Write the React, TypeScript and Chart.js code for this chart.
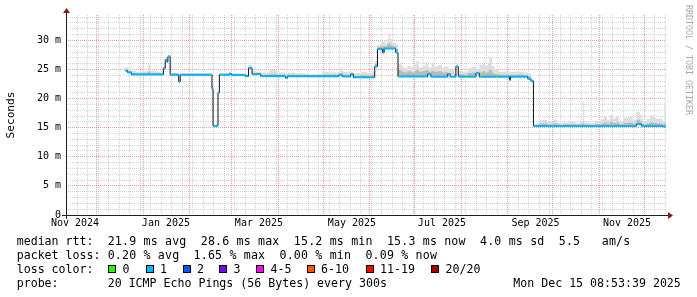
import React, { useEffect, useRef } from "react";
import { Chart, registerables } from "chart.js";

Chart.register(...registerables);

// x values: days since 2024-11-01 00:00 (400-day window ending Mon Dec 15 08:53:39 2025)
const X_START = 9.37;
const X_END = 409.37;
const Y_MAX = 34.36;

const monthStartDays = [30, 61, 92, 120, 151, 181, 212, 242, 273, 304, 334, 365, 395];
const xTickLabels = ["Nov 2024", "Jan 2025", "Mar 2025", "May 2025", "Jul 2025", "Sep 2025", "Nov 2025"];
const xTickLabelDays = [15.4, 76.0, 138.0, 200.0, 260.0, 322.4, 383.4];
const FIRST_MONDAY = 10;
const LAST_MONDAY = 409;

const yMinorStep = 1;
const yMajorStep = 5;

// median rtt (ms): step function, value holds from day until next day
const medianDays = [
  48.9, 50.4, 52.9, 74.3, 75.5, 76.6, 77.3, 78.8, 84.5, 85.5,
  106.7, 107.4, 110.7, 111.6, 118.5, 119.5, 128.9, 131.1, 133.4, 139.2,
  155.7, 157.0, 191.1, 193.6, 199.2, 200.9, 215.2, 217.0, 220.3, 221.4,
  229.2, 230.7, 250.4, 252.6, 263.8, 265.5, 269.3, 270.9, 276.0, 276.8,
  282.7, 284.9, 285.8, 286.6, 296.0, 296.8, 305.0, 305.7, 317.2, 319.4,
  321.0, 389.7, 393.0, 407.5,
];
const medianMs = [
  24.8, 24.5, 24.15, 25.2, 26.6, 26.3, 27.2, 24.1, 22.9, 24.1,
  21.7, 15.3, 21.0, 24.1, 24.3, 24.05, 23.85, 25.25, 24.2, 23.85,
  23.55, 23.85, 24.0, 23.8, 24.2, 23.65, 25.5, 28.5, 27.9, 28.6,
  27.9, 23.8, 24.2, 23.77, 24.2, 23.77, 25.5, 23.77, 23.77, 23.77,
  24.35, 23.77, 23.77, 23.77, 23.77, 23.77, 23.2, 23.77, 23.4, 23.0,
  15.3, 15.6, 15.3, 15.2,
];
const medianLoss = [
  1, 1, 1, 1, 1, 1, 1, 1, 1, 1,
  1, 1, 1, 1, 1, 1, 1, 1, 1, 1,
  1, 1, 1, 1, 1, 1, 1, 1, 1, 1,
  1, 1, 1, 1, 1, 1, 1, 1, 0, 1,
  1, 1, 0, 1, 0, 1, 1, 1, 1, 1,
  1, 1, 1, 1,
];

// smoke (spread of the 20 pings), upper edges in ms
const smokeDays = [
  48.9, 50.7, 52.9, 56.1, 60.1, 64.1, 65.6, 69.5, 72.0, 74.3,
  75.5, 76.6, 77.3, 78.8, 84.5, 85.5, 95.0, 106.7, 107.4, 110.7,
  111.6, 118.5, 119.5, 128.9, 131.1, 133.4, 136.0, 139.2, 145.0, 150.0,
  155.7, 157.0, 162.0, 166.0, 172.0, 180.0, 185.0, 191.1, 192.5, 194.0,
  199.2, 200.9, 206.0, 210.0, 213.0, 215.2, 217.0, 219.0, 220.3, 222.0,
  223.5, 224.5, 225.5, 227.0, 229.2, 230.7, 233.0, 235.0, 237.0, 239.5,
  242.0, 243.0, 244.5, 247.0, 249.0, 251.0, 253.0, 255.0, 257.5, 260.0,
  262.0, 264.5, 268.0, 269.3, 270.9, 274.0, 277.0, 280.0, 282.7, 284.9,
  287.0, 289.0, 290.5, 291.5, 292.5, 293.5, 295.0, 298.0, 302.0, 305.0,
  306.0, 310.0, 314.0, 317.2, 319.4, 321.0, 324.0, 325.5, 330.0, 334.0,
  337.0, 341.0, 345.0, 349.0, 352.0, 354.0, 354.8, 358.0, 362.0, 366.0,
  368.0, 370.0, 372.0, 374.0, 376.0, 378.0, 381.0, 384.0, 387.0, 389.7,
  392.0, 393.0, 394.0, 396.5, 398.5, 401.0, 403.0, 405.0, 407.0, 408.2,
  409.0,
];
const smokeTopMs = [
  25.4, 25.2, 24.8, 24.6, 24.7, 25.8, 24.8, 24.6, 24.5, 25.6,
  27.0, 26.8, 27.6, 24.4, 23.1, 24.35, 24.35, 21.9, 15.6, 21.3,
  24.4, 24.5, 24.35, 24.2, 25.8, 24.8, 24.6, 24.5, 24.9, 24.5,
  24.2, 24.5, 24.4, 24.3, 24.2, 24.6, 24.5, 24.7, 25.2, 24.6,
  24.6, 24.4, 24.6, 24.4, 24.7, 26.5, 29.2, 29.6, 29.8, 29.5,
  30.3, 31.2, 30.2, 29.6, 29.3, 26.0, 25.5, 25.2, 25.6, 25.3,
  25.9, 26.5, 25.4, 25.6, 26.3, 25.4, 26.1, 25.5, 25.8, 25.3,
  25.5, 24.9, 24.7, 25.8, 24.8, 24.6, 25.2, 25.5, 25.0, 25.8,
  26.3, 25.6, 26.0, 27.2, 27.0, 25.6, 25.0, 24.6, 24.7, 24.5,
  24.6, 24.6, 24.5, 24.3, 23.3, 15.6, 15.9, 16.3, 16.0, 16.3,
  15.8, 15.9, 16.1, 15.8, 16.0, 19.5, 15.9, 15.8, 16.2, 16.5,
  17.0, 16.4, 17.2, 16.6, 16.9, 16.2, 16.7, 16.9, 16.4, 17.7,
  17.3, 16.6, 16.2, 16.5, 17.2, 16.8, 16.5, 16.6, 16.0, 19.3,
  16.0,
];
const smokeCoreMs = [
  25.0, 24.7, 24.4, 24.3, 24.35, 24.6, 24.35, 24.3, 24.3, 25.3,
  26.8, 26.5, 27.4, 24.25, 23.0, 24.2, 24.2, 21.8, 15.45, 21.1,
  24.2, 24.35, 24.2, 24.0, 25.5, 24.4, 24.35, 24.1, 24.2, 24.1,
  23.8, 24.1, 24.05, 24.0, 24.0, 24.1, 24.1, 24.3, 24.4, 24.1,
  24.4, 23.95, 24.0, 23.95, 24.0, 26.0, 28.9, 29.0, 29.0, 29.0,
  29.3, 29.6, 29.2, 29.0, 28.5, 24.9, 24.6, 24.5, 24.7, 24.5,
  24.8, 25.0, 24.6, 24.7, 24.9, 24.6, 24.8, 24.6, 24.7, 24.5,
  24.5, 24.3, 24.2, 25.6, 24.2, 24.1, 24.4, 24.5, 24.6, 24.5,
  24.7, 24.4, 24.6, 25.0, 24.8, 24.4, 24.2, 24.1, 24.1, 24.0,
  24.1, 24.1, 24.0, 23.9, 23.15, 15.5, 15.6, 15.7, 15.6, 15.7,
  15.55, 15.6, 15.6, 15.5, 15.6, 15.9, 15.55, 15.5, 15.6, 15.7,
  15.9, 15.7, 16.0, 15.8, 15.9, 15.6, 15.8, 15.9, 15.7, 16.3,
  16.1, 15.7, 15.6, 15.7, 15.9, 15.8, 15.7, 15.7, 15.5, 15.8,
  15.5,
];

const lossLabels = ["0", "1", "2", "3", "4-5", "6-10", "11-19", "20/20"];
const lossColors = ["#26ff00", "#00b8ff", "#0059ff", "#7e00ff", "#ff00ff", "#ff5500", "#ff0000", "#a10000"];

const statRows = [
  ["median rtt:", "21.9 ms avg  28.6 ms max  15.2 ms min  15.3 ms now  4.0 ms sd  5.5   am/s"],
  ["packet loss:", "0.20 % avg  1.65 % max  0.00 % min  0.09 % now"],
];
const probeText = "20 ICMP Echo Pings (56 Bytes) every 300s";
const stampText = "Mon Dec 15 08:53:39 2025";

// layout (not data)
const lossItemX = [108, 145.5, 182.5, 219, 256, 306.5, 365.5, 431];
const rowTops = [234, 248, 262.3, 276];
const MONO = '"DejaVu Sans Mono", monospace';

const GRID_GRAY = "rgba(150,150,150,0.42)";
const GRID_RED = "rgba(222,79,79,0.55)";

function medianAt(d: number): number {
  let v = medianMs[0];
  for (let i = 0; i < medianDays.length; i++) {
    if (medianDays[i] <= d + 1e-9) v = medianMs[i];
    else break;
  }
  return v;
}

const axesPlugin = {
  id: "rrdAxes",
  afterDatasetsDraw(chart: any) {
    const { ctx, chartArea: a } = chart;
    ctx.save();
    ctx.strokeStyle = "#1f1f1f";
    ctx.lineWidth = 1;
    ctx.beginPath();
    ctx.moveTo(a.left - 4, a.bottom + 0.5);
    ctx.lineTo(a.right + 4, a.bottom + 0.5);
    ctx.moveTo(a.left + 0.5, a.bottom + 4);
    ctx.lineTo(a.left + 0.5, a.top - 4);
    ctx.stroke();
    ctx.fillStyle = "#7f1f1f";
    ctx.beginPath();
    ctx.moveTo(a.right + 2, a.bottom - 3);
    ctx.lineTo(a.right + 2, a.bottom + 4);
    ctx.lineTo(a.right + 7, a.bottom + 0.5);
    ctx.closePath();
    ctx.fill();
    ctx.beginPath();
    ctx.moveTo(a.left - 3, a.top - 2);
    ctx.lineTo(a.left + 4, a.top - 2);
    ctx.lineTo(a.left + 0.5, a.top - 7);
    ctx.closePath();
    ctx.fill();
    ctx.restore();
  },
};

export default function App() {
  const ref = useRef<HTMLCanvasElement>(null);

  useEffect(() => {
    const canvas = ref.current;
    if (!canvas) return;
    Chart.defaults.font.family = MONO;

    // x ticks: weekly minor grid, monthly major grid, bimonthly labels
    const kind = new Map<number, string>();
    for (let d = FIRST_MONDAY; d <= LAST_MONDAY; d += 7) kind.set(d, "week");
    monthStartDays.forEach((d) => kind.set(d, "month"));
    const labelMap = new Map<number, string>();
    xTickLabelDays.forEach((d, i) => {
      kind.set(d, "label");
      labelMap.set(d, xTickLabels[i]);
    });
    const xTickValues = Array.from(kind.keys()).sort((p, q) => p - q);

    const yTickValues: number[] = [];
    for (let v = 0; v <= Y_MAX; v += yMinorStep) yTickValues.push(v);

    const lastMedian = medianMs[medianMs.length - 1];
    const blackPts = medianDays.map((d, i) => ({ x: d, y: medianMs[i] }));
    blackPts.push({ x: X_END, y: lastMedian });

    const runPts: { x: number; y: number | null }[] = [];
    medianDays.forEach((d, i) => {
      const end = i + 1 < medianDays.length ? medianDays[i + 1] : X_END;
      runPts.push({ x: d, y: medianMs[i] }, { x: end, y: medianMs[i] }, { x: end, y: null });
    });

    const sDays = [...smokeDays, X_END];
    const lowPts = sDays.map((d) => ({ x: d, y: medianAt(d) }));
    const topPts = sDays.map((d, i) => ({ x: d, y: smokeTopMs[Math.min(i, smokeTopMs.length - 1)] }));
    const corePts = sDays.map((d, i) => ({ x: d, y: smokeCoreMs[Math.min(i, smokeCoreMs.length - 1)] }));

    const base = { pointRadius: 0, pointHoverRadius: 0, stepped: "before" as const, spanGaps: false };

    const chart = new Chart(canvas, {
      type: "line",
      data: {
        datasets: [
          { ...base, label: "smokeLow", data: lowPts, borderWidth: 0, borderColor: "rgba(0,0,0,0)", fill: false, order: 10 },
          { ...base, label: "smoke", data: topPts, borderWidth: 0, borderColor: "rgba(0,0,0,0)", backgroundColor: "#dedede", fill: "-1", order: 9 },
          { ...base, label: "smokeCore", data: corePts, borderWidth: 0, borderColor: "rgba(0,0,0,0)", backgroundColor: "#b9b9b9", fill: "-2", order: 8 },
          { ...base, label: "median", data: blackPts, borderWidth: 1, borderColor: "#111111", fill: false, order: 2 },
          {
            ...base,
            stepped: false,
            label: "median loss color",
            data: runPts,
            borderWidth: 2,
            borderColor: lossColors[1],
            fill: false,
            order: 1,
            segment: {
              borderColor: (c: any) => lossColors[medianLoss[Math.floor(c.p0DataIndex / 3)]],
            },
          },
        ],
      },
      options: {
        animation: false,
        responsive: false,
        events: [],
        layout: { padding: { left: 0, right: 31, top: 15, bottom: 0 } },
        plugins: { legend: { display: false }, tooltip: { enabled: false } },
        scales: {
          x: {
            type: "linear",
            min: X_START,
            max: X_END,
            afterBuildTicks: (s: any) => {
              s.ticks = xTickValues.map((v) => ({ value: v }));
            },
            afterFit: (s: any) => {
              s.height = 82;
            },
            grid: {
              drawTicks: false,
              lineWidth: 1,
              color: (c: any) => {
                const k = kind.get(c.tick?.value);
                if (k === "month") return GRID_RED;
                if (k === "week") return GRID_GRAY;
                return "rgba(0,0,0,0)";
              },
            },
            border: { display: false, dash: [1, 1] },
            ticks: {
              autoSkip: false,
              maxRotation: 0,
              minRotation: 0,
              padding: 2,
              color: "#000",
              font: { family: MONO, size: 10 },
              callback: (v: any) => labelMap.get(v) ?? "",
            },
          },
          y: {
            type: "linear",
            min: 0,
            max: Y_MAX,
            afterBuildTicks: (s: any) => {
              s.ticks = yTickValues.map((v) => ({ value: v }));
            },
            afterFit: (s: any) => {
              s.width = 66;
            },
            grid: {
              drawTicks: false,
              lineWidth: 1,
              color: (c: any) => {
                const v = c.tick?.value;
                if (v === 0) return "rgba(0,0,0,0)";
                return v % yMajorStep === 0 ? GRID_RED : GRID_GRAY;
              },
            },
            border: { display: false, dash: [1, 1] },
            title: {
              display: true,
              text: "Seconds",
              color: "#000",
              font: { family: MONO, size: 11.2, lineHeight: 1.2 },
              padding: { top: 4, bottom: 0 },
            },
            ticks: {
              autoSkip: false,
              padding: 5,
              color: "#000",
              font: { family: MONO, size: 10 },
              callback: (v: any) => (v % yMajorStep === 0 ? (v === 0 ? "0" : `${v} m`) : ""),
            },
          },
        },
      },
      plugins: [axesPlugin],
    } as any);
    return () => chart.destroy();
  }, []);

  const textStyle: React.CSSProperties = {
    position: "absolute",
    fontFamily: MONO,
    fontSize: "11.6px",
    lineHeight: "14px",
    whiteSpace: "pre",
    color: "#000",
  };

  return (
    <div style={{ position: "absolute", left: 0, top: 0, width: 697, height: 297, background: "#fff", overflow: "hidden" }}>
      <canvas ref={ref} width={697} height={297} style={{ position: "absolute", left: 0, top: 0, width: 697, height: 297 }} />
      {statRows.map((r, i) => (
        <React.Fragment key={r[0]}>
          <span style={{ ...textStyle, left: 16.7, top: rowTops[i] }}>{r[0]}</span>
          <span style={{ ...textStyle, left: 107.7, top: rowTops[i], letterSpacing: "0.18px" }}>{r[1]}</span>
        </React.Fragment>
      ))}
      <span style={{ ...textStyle, left: 16.7, top: rowTops[2] }}>loss color:</span>
      {lossLabels.map((l, i) => (
        <React.Fragment key={l}>
          <span
            style={{
              position: "absolute",
              left: lossItemX[i],
              top: 265,
              width: 6,
              height: 6,
              border: "1px solid #000",
              background: lossColors[i],
            }}
          />
          <span style={{ ...textStyle, left: lossItemX[i] + 14.5, top: rowTops[2] }}>{l}</span>
        </React.Fragment>
      ))}
      <span style={{ ...textStyle, left: 16.7, top: rowTops[3] }}>probe:</span>
      <span style={{ ...textStyle, left: 107.7, top: rowTops[3] }}>{probeText}</span>
      <span style={{ ...textStyle, left: 513.3, top: rowTops[3] }}>{stampText}</span>
      <div
        style={{
          position: "absolute",
          left: 684,
          top: 5,
          writingMode: "vertical-rl",
          fontFamily: MONO,
          fontSize: "8.3px",
          lineHeight: "9px",
          color: "#a8a8a8",
          whiteSpace: "pre",
        }}
      >
        RRDTOOL / TOBI OETIKER
      </div>
    </div>
  );
}
